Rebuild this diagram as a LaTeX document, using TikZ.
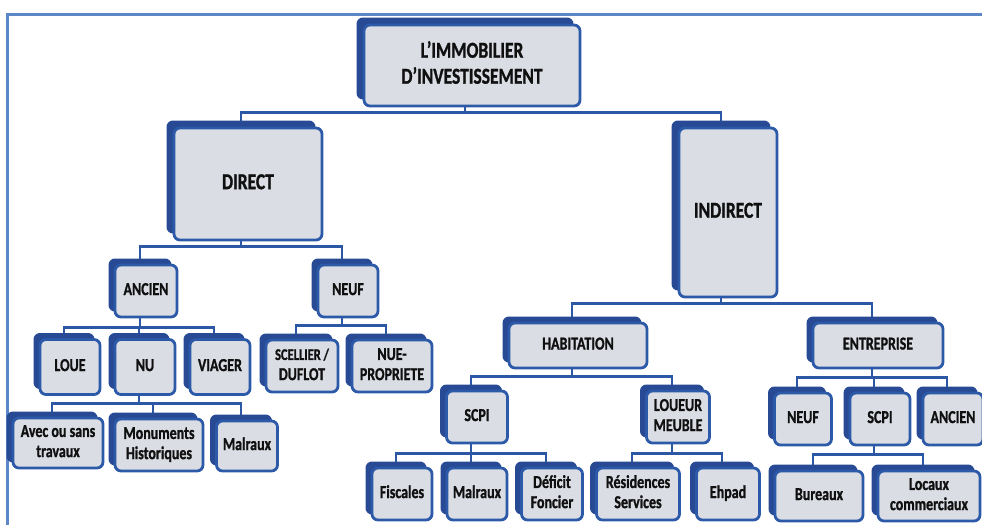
\documentclass[tikz,border=0pt]{standalone}
\usepackage{fontspec}
\setmainfont{Carlito}[BoldFeatures={FakeBold=1.3}]
\usepackage{graphicx}
\usetikzlibrary{backgrounds}

\definecolor{framecol}{HTML}{5B87C6}
\definecolor{linkcol}{HTML}{2B57A5}
\definecolor{shadecol}{HTML}{284A95}
\definecolor{edgecol}{HTML}{2C59A8}
\definecolor{facecol}{HTML}{DADDE4}
\definecolor{inkcol}{HTML}{101010}

% labels are set slightly tall and narrow
\newcommand\tallcaps[1]{\scalebox{1}[1.3]{\begin{tabular}{@{}c@{}}#1\end{tabular}}}

% #1 extra style, #2 name, #3 x, #4 y, #5 width, #6 height, #7 label
\newcommand\orgbox[7][]{%
  \node[backbox,minimum width=#5pt,minimum height=#6pt] (#2) at (#3-\boxshift,#4-\boxshift) {};
  \node[facebox,minimum width=#5pt,minimum height=#6pt,#1] (#2-face) at (#3,#4) {\tallcaps{#7}};
}

\tikzset{
  backbox/.style={draw=shadecol,fill=shadecol,line width=1pt,rounded corners=6pt,inner sep=0pt},
  facebox/.style={draw=edgecol,fill=facecol,line width=2.8pt,rounded corners=6pt,inner sep=0pt,
    text=inkcol,font=\bfseries\fontsize{14}{15.5}\selectfont},
  bigtext/.style={font=\bfseries\fontsize{17.5}{20}\selectfont},
  link/.style={draw=linkcol,line width=2.6pt},
  framing/.style={draw=framecol,line width=3pt}
}

\begin{document}
\begin{tikzpicture}[x=1pt,y=-1pt]
\useasboundingbox (0,0) rectangle (982,525);

% top levels
\def\boxshift{7}
\orgbox[bigtext]{top}{472}{65.5}{216}{81}{L’IMMOBILIER\\D’INVESTISSEMENT}
\orgbox[bigtext]{direct}{248}{184}{148}{112}{DIRECT}
\orgbox[bigtext]{indirect}{728}{212.5}{98}{169}{INDIRECT}

% direct branch
\def\boxshift{6}
\orgbox{ancien}{146}{291}{62}{52}{ANCIEN}
\orgbox{neuf}{348}{291}{60}{52}{NEUF}
\orgbox{loue}{70}{367}{60}{55}{LOUE}
\orgbox{nu}{145}{367}{60}{55}{NU}
\orgbox{viager}{220}{367}{60}{55}{VIAGER}
\orgbox{avec}{58}{443}{90}{50}{Avec ou sans\\travaux}
\orgbox{monuments}{159}{445}{88}{52}{Monuments\\Historiques}
\orgbox{malraux}{247}{446}{61}{50}{Malraux}
\orgbox{scellier}{302}{366}{72}{52}{{\fontsize{12.5}{14}\selectfont SCELLIER /}\\DUFLOT}
\orgbox{nuepropriete}{392}{366}{80}{52}{NUE-\\PROPRIETE}

% indirect branch
\orgbox{habitation}{578}{345.5}{138}{45}{HABITATION}
\orgbox{entreprise}{878}{345.5}{130}{45}{ENTREPRISE}
\orgbox{scpih}{477}{417}{61}{52}{SCPI}
\orgbox{loueur}{678}{417}{63}{52}{LOUEUR\\MEUBLE}
\orgbox{fiscales}{402}{494}{60}{52}{Fiscales}
\orgbox{malrauxh}{477}{494}{60}{52}{Malraux}
\orgbox{deficit}{552}{494}{61}{52}{Déficit\\Foncier}
\orgbox{residences}{638}{494}{83}{52}{Résidences\\Services}
\orgbox{ehpad}{728}{494}{63}{52}{Ehpad}
\orgbox{neufe}{803}{419}{57}{52}{NEUF}
\orgbox{scpie}{880}{419}{60}{52}{SCPI}
\orgbox{anciene}{953}{419}{60}{52}{ANCIEN}
\orgbox{bureaux}{819}{496}{88}{50}{Bureaux}
\orgbox{locaux}{929}{496}{102}{50}{Locaux\\commerciaux}

\begin{pgfonlayer}{background}
  \draw[framing] (7,525) -- (7,14) -- (982,14);
  \foreach \c in {direct,indirect} \draw[link] (top.south) -- ++(0,13) -| (\c.north);
  \foreach \c in {ancien,neuf} \draw[link] (direct.south) -- ++(0,13) -| (\c.north);
  \foreach \c in {habitation,entreprise} \draw[link] (indirect.south) -- ++(0,13) -| (\c.north);
  \foreach \c in {loue,nu,viager} \draw[link] (ancien.south) -- ++(0,16) -| (\c.north);
  \foreach \c in {scellier,nuepropriete} \draw[link] (neuf.south) -- ++(0,14) -| (\c.north);
  \foreach \c in {avec,monuments,malraux} \draw[link] (nu.south) -- ++(0,14.5) -| (\c.north);
  \foreach \c in {scpih,loueur} \draw[link] (habitation.south) -- ++(0,14) -| (\c.north);
  \foreach \c in {neufe,scpie,anciene} \draw[link] (entreprise.south) -- ++(0,15) -| (\c.north);
  \foreach \c in {fiscales,malrauxh,deficit} \draw[link] (scpih.south) -- ++(0,16) -| (\c.north);
  \foreach \c in {residences,ehpad} \draw[link] (loueur.south) -- ++(0,16) -| (\c.north);
  \foreach \c in {bureaux,locaux} \draw[link] (scpie.south) -- ++(0,15) -| (\c.north);
\end{pgfonlayer}
\end{tikzpicture}
\end{document}
